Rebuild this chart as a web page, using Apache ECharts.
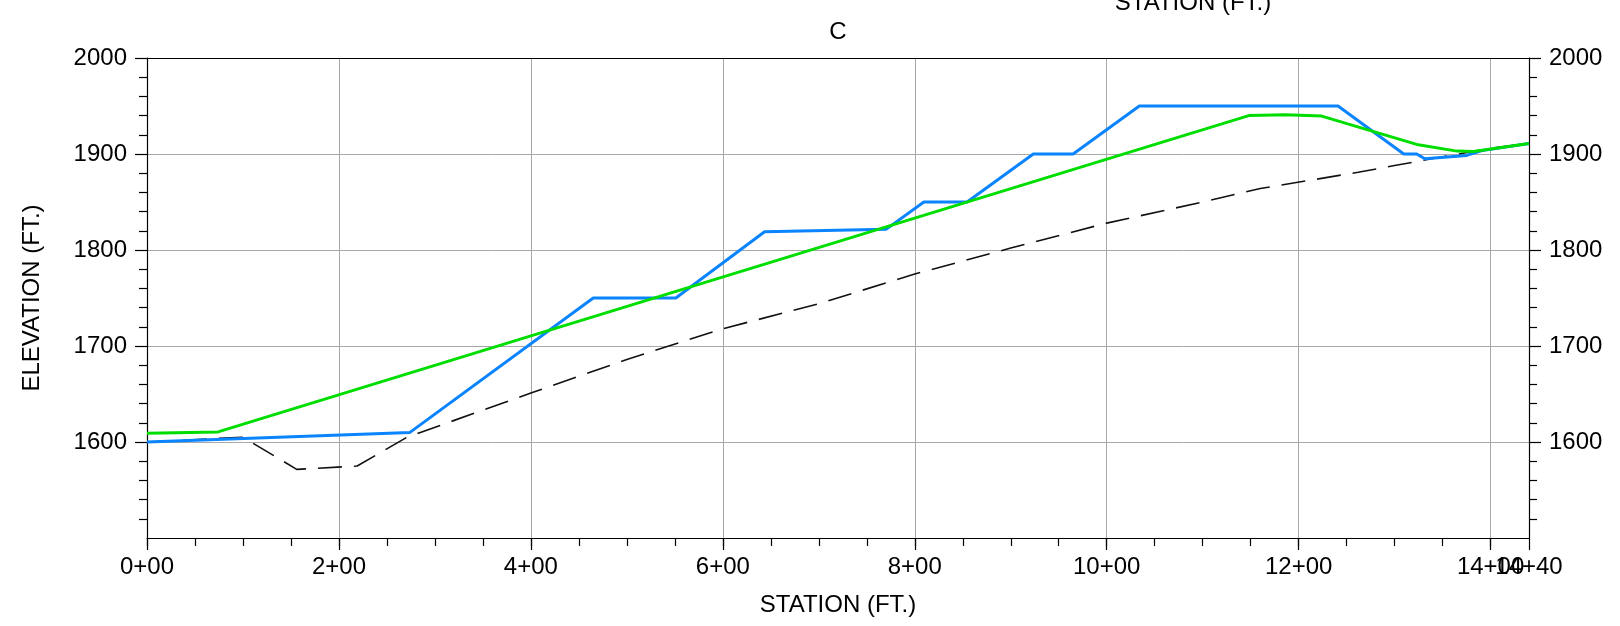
<!DOCTYPE html>
<html>
<head>
<meta charset="utf-8">
<script src="https://cdn.jsdelivr.net/npm/echarts@6/dist/echarts.min.js"></script>
<style>
html,body{margin:0;padding:0;background:#fff;}
#chart{width:1620px;height:626px;}
</style>
</head>
<body>
<div id="chart"></div>
<script>
// ---- data ----
const chartTitle = 'C';
const xAxisTitle = 'STATION (FT.)';
const yAxisTitle = 'ELEVATION (FT.)';

const xTickValues = [0, 200, 400, 600, 800, 1000, 1200, 1400];
const xTickLabels = ['0+00', '2+00', '4+00', '6+00', '8+00', '10+00', '12+00', '14+00'];
const xEndTickValues = [1440];
const xEndTickLabels = ['14+40'];
const xMinorTickValues = [0,50,100,150,200,250,300,350,400,450,500,550,600,650,700,750,800,850,900,950,1000,1050,1100,1150,1200,1250,1300,1350,1400];
const yTickValues = [1600, 1700, 1800, 1900, 2000];
const yTickLabels = ['1600', '1700', '1800', '1900', '2000'];

// existing ground (dashed)
const groundStation = [0, 100, 156, 219, 271, 400, 500, 600, 700, 800, 900, 1000, 1100, 1160, 1262, 1300, 1400, 1440];
const groundElev    = [1600, 1605, 1571.5, 1575, 1605, 1651, 1686, 1718, 1744, 1775, 1802, 1828, 1850, 1864, 1881, 1888, 1906, 1911];

// benched grade (blue)
const gradeStation = [0, 274, 465, 551, 643.5, 770, 809.5, 854.5, 923.5, 965, 1034, 1241, 1309.5, 1323, 1331.5, 1375, 1391, 1440];
const gradeElev    = [1600, 1610, 1750, 1750, 1819, 1821.5, 1850, 1850, 1900, 1900, 1950, 1950, 1900, 1900, 1895, 1898.5, 1903.5, 1911];

// design line (green)
const designStation = [0, 74, 1148, 1186, 1224, 1323, 1365, 1382, 1440];
const designElev    = [1609, 1610.5, 1940, 1941, 1939.5, 1910, 1903, 1902.5, 1911];

function pairs(xs, ys) { return xs.map((x, i) => [x, ys[i]]); }
function lookup(vals, labels) { return v => { const i = vals.indexOf(v); return i >= 0 ? labels[i] : ''; }; }

const FONT = "'Liberation Sans', Arial, sans-serif";
const chart = echarts.init(document.getElementById('chart'), null, {renderer: 'canvas'});

const gridLine = {show: true, lineStyle: {color: '#A8A8A8', width: 1}};
const black = '#000';
const tickStyle = {color: black, width: 1.2};
const labelBase = {show: true, fontSize: 24, color: black, fontFamily: FONT};

const option = {
  animation: false,
  backgroundColor: '#fff',
  textStyle: {fontFamily: FONT},
  grid: {left: 147, right: 91, top: 58, bottom: 88, containLabel: false, outerBoundsMode: 'none'},
  graphic: [
    {type: 'text', x: 838, y: 32, style: {text: chartTitle, fill: black, font: '24px ' + FONT, textAlign: 'center', textVerticalAlign: 'middle'}},
    {type: 'text', x: 1193, y: 3, style: {text: xAxisTitle, fill: black, font: '24px ' + FONT, textAlign: 'center', textVerticalAlign: 'middle'}}
  ],
  xAxis: [
    {
      type: 'value', min: 0, max: 1440, interval: 200, position: 'bottom',
      name: xAxisTitle, nameLocation: 'middle', nameGap: 55,
      nameTextStyle: {fontSize: 24, color: black, fontFamily: FONT},
      axisLine: {show: true, onZero: false, lineStyle: {color: black, width: 1.2}},
      axisTick: {show: true, length: 12, lineStyle: tickStyle, customValues: xTickValues},
      axisLabel: Object.assign({}, labelBase, {margin: 17, hideOverlap: false, customValues: xTickValues,
        formatter: lookup(xTickValues, xTickLabels)}),
      splitLine: gridLine
    },
    {
      type: 'value', min: 0, max: 1440, position: 'bottom',
      axisLine: {show: false, onZero: false},
      axisTick: {show: true, length: 8, lineStyle: tickStyle, customValues: xMinorTickValues},
      axisLabel: {show: false},
      splitLine: {show: false}
    },
    {
      type: 'value', min: 0, max: 1440, position: 'bottom',
      axisLine: {show: false, onZero: false},
      axisTick: {show: true, length: 12, lineStyle: tickStyle, customValues: xEndTickValues},
      axisLabel: Object.assign({}, labelBase, {margin: 17, customValues: xEndTickValues,
        formatter: lookup(xEndTickValues, xEndTickLabels)}),
      splitLine: {show: false}
    },
    {
      type: 'value', min: 0, max: 1440, position: 'top',
      axisLine: {show: true, onZero: false, lineStyle: {color: black, width: 1.2}},
      axisTick: {show: false}, axisLabel: {show: false}, splitLine: {show: false}
    }
  ],
  yAxis: [
    {
      type: 'value', min: 1500, max: 2000, interval: 100, position: 'left',
      name: yAxisTitle, nameLocation: 'middle', nameGap: 103, nameRotate: 90,
      nameTextStyle: {fontSize: 24, color: black, fontFamily: FONT},
      axisLine: {show: true, onZero: false, lineStyle: {color: black, width: 1.2}},
      axisTick: {show: true, length: 12, lineStyle: tickStyle, customValues: yTickValues},
      minorTick: {show: true, splitNumber: 5, length: 8, lineStyle: tickStyle},
      axisLabel: Object.assign({}, labelBase, {margin: 20, customValues: yTickValues,
        formatter: lookup(yTickValues, yTickLabels)}),
      splitLine: gridLine
    },
    {
      type: 'value', min: 1500, max: 2000, interval: 100, position: 'right',
      axisLine: {show: true, onZero: false, lineStyle: {color: black, width: 1.2}},
      axisTick: {show: true, length: 12, lineStyle: tickStyle, customValues: yTickValues},
      minorTick: {show: true, splitNumber: 5, length: 8, lineStyle: tickStyle},
      axisLabel: Object.assign({}, labelBase, {margin: 20, customValues: yTickValues,
        formatter: lookup(yTickValues, yTickLabels)}),
      splitLine: {show: false}
    }
  ],
  series: [
    {type: 'line', name: 'Existing ground', data: pairs(groundStation, groundElev), symbol: 'none', xAxisIndex: 0, yAxisIndex: 0,
      lineStyle: {color: '#111', width: 1.6, type: [24, 12]}, z: 3},
    {type: 'line', name: 'Grade', data: pairs(gradeStation, gradeElev), symbol: 'none', xAxisIndex: 0, yAxisIndex: 0,
      lineStyle: {color: '#0A84FF', width: 3}, z: 4},
    {type: 'line', name: 'Design', data: pairs(designStation, designElev), symbol: 'none', xAxisIndex: 0, yAxisIndex: 0,
      lineStyle: {color: '#00DD00', width: 3}, z: 5}
  ]
};
chart.setOption(option);
</script>
</body>
</html>
